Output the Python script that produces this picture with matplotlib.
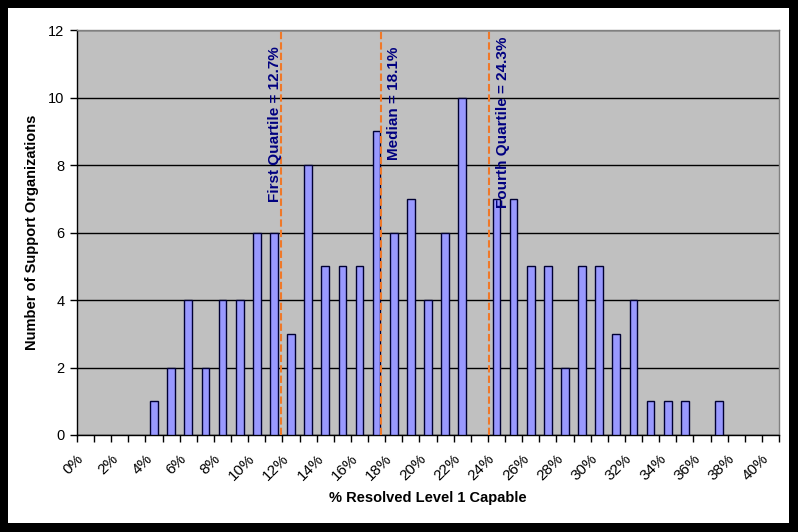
import matplotlib
matplotlib.use("Agg")
import matplotlib.pyplot as plt
from matplotlib.patches import Rectangle
import numpy as np

# Data
categories = [f"{i}%" for i in range(0, 41)]
counts = [0, 0, 0, 0, 1, 2, 4, 2, 4, 4,
          6, 6, 3, 8, 5, 5, 5, 9, 6, 7,
          4, 6, 10, 0, 7, 7, 5, 5, 2, 5,
          5, 3, 4, 1, 1, 1, 0, 1, 0, 0, 0]
# Reference lines (positions on category axis) and their labels
ref_positions = [11.92, 17.74, 24.08]
ref_labels = ["First Quartile = 12.7%", "Median = 18.1%", "Fourth Quartile = 24.3%"]
ref_text_x = [11.55, 18.50, 24.86]
ref_text_top = [11.52, 11.52, 11.80]

plt.rcParams['font.family'] = ['Liberation Sans', 'DejaVu Sans']

W, H = 798, 532
fig = plt.figure(figsize=(W / 100, H / 100), dpi=100)
fig.patch.set_facecolor('black')
fig.patches.append(Rectangle((8 / W, (H - 523) / H), (789 - 8) / W, (523 - 8) / H,
                             transform=fig.transFigure, facecolor='white',
                             edgecolor='none', zorder=-10))

left, right, top, bottom = 77, 779, 30, 435
ax = fig.add_axes([left / W, (H - bottom) / H, (right - left) / W, (bottom - top) / H])
ax.set_zorder(1)
ax.set_facecolor('#C0C0C0')

n = len(counts)
x = np.arange(n) + 0.5
vals = np.array(counts)
mask = vals > 0
ax.bar(x[mask], vals[mask], width=0.45, color='#9999FF', edgecolor='#000033',
       linewidth=1.0, zorder=3)

ax.set_xlim(0, n)
ax.set_ylim(0, 12)
ax.set_yticks(range(0, 13, 2))
ax.yaxis.grid(True, color='black', linewidth=1.0, zorder=1)
ax.set_axisbelow(True)

ax.set_xticks(np.arange(0, n + 1))
ax.set_xticklabels([])
ax.tick_params(axis='x', direction='out', length=5, width=1, color='black')
ax.tick_params(axis='y', direction='out', length=5, width=1, color='black',
               labelsize=10.5, pad=4)

for i, lab in enumerate(categories):
    if i % 2 == 0:
        ax.annotate(lab, xy=(i + 0.5, 0), xycoords='data',
                    xytext=(-4, -22), textcoords='offset pixels',
                    rotation=45, ha='right', va='center', rotation_mode='anchor',
                    fontsize=11, color='black', annotation_clip=False)

for s in ['left', 'bottom']:
    ax.spines[s].set_color('black')
    ax.spines[s].set_linewidth(1.0)
for s in ['top', 'right']:
    ax.spines[s].set_color('#808080')
    ax.spines[s].set_linewidth(1.0)

for pos in ref_positions:
    ax.axvline(pos, color='#F07828', linewidth=1.5, linestyle=(0, (3.5, 1.5)), zorder=4)

for tx, ty, lab in zip(ref_text_x, ref_text_top, ref_labels):
    ax.text(tx, ty, lab, rotation=90, ha='center', va='top', fontsize=11,
            fontweight='bold', color='#000080', zorder=5)

fig.text(428 / W, 1 - 498 / H, "% Resolved Level 1 Capable", ha='center', va='center',
         fontsize=10.5, fontweight='bold')
fig.text(32 / W, 1 - 232 / H, "Number of Support Organizations", ha='center', va='center',
         rotation=90, fontsize=10.5, fontweight='bold')

fig.savefig("out.png", dpi=100, facecolor=fig.get_facecolor())
